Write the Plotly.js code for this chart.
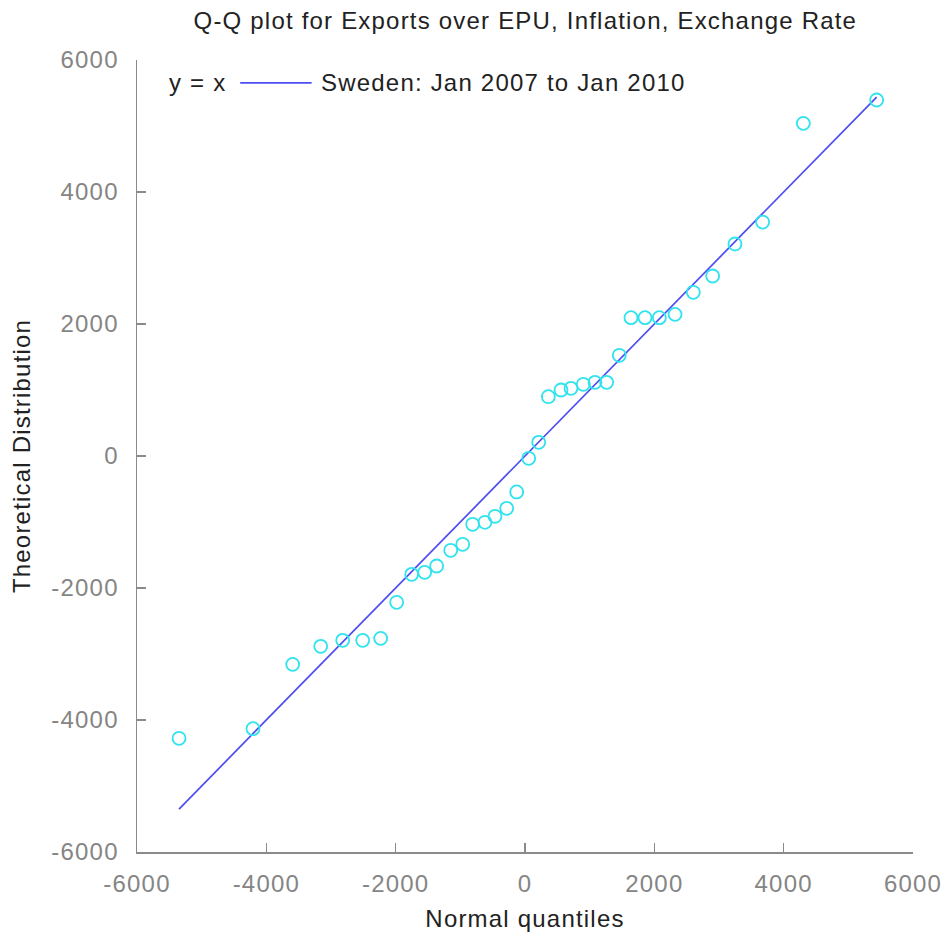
<!DOCTYPE html>
<html>
<head>
<meta charset="utf-8">
<script src="https://cdn.plot.ly/plotly-3.0.1.min.js"></script>
<style>
html,body{margin:0;padding:0;background:#fff;}
#chart{width:950px;height:940px;}
#chart svg text{letter-spacing:1.2px;}
</style>
</head>
<body>
<div id="chart"></div>
<script>
// Normal quantiles (x) and theoretical distribution values (y)
const normalQuantiles = [-5350, -4206, -3592, -3159, -2819, -2510, -2232, -1984, -1752, -1551,
  -1366, -1149, -963, -809, -619, -464, -283, -128, 57, 212,
  361, 557, 711, 902, 1082, 1263, 1458, 1639, 1856, 2077,
  2320, 2603, 2902, 3247, 3675, 4304, 5438];
const theoretical = [-4277, -4131, -3157, -2884, -2793, -2793, -2763, -2217, -1793, -1763,
  -1667, -1429, -1338, -1035, -1005, -914, -793, -545, -35, 207,
  899, 1000, 1025, 1086, 1116, 1116, 1526, 2096, 2096, 2096,
  2146, 2480, 2727, 3212, 3545, 5040, 5394];
const tickVals = [-6000, -4000, -2000, 0, 2000, 4000, 6000];
const tickText = ['-6000', '-4000', '-2000', '0', '2000', '4000', '6000'];
const titleText = 'Q-Q plot for Exports over EPU, Inflation, Exchange Rate';
const xTitle = 'Normal quantiles';
const yTitle = 'Theoretical Distribution';
const lineLabel = 'y = x';
const seriesLabel = 'Sweden: Jan 2007 to Jan 2010';

const xMin = Math.min(...normalQuantiles), xMax = Math.max(...normalQuantiles);

const FONT = 'Liberation Sans, Arial, sans-serif';
const traces = [
  {
    x: [xMin, xMax], y: [xMin, xMax], mode: 'lines', name: lineLabel,
    line: {color: '#4d4df2', width: 1.7}, showlegend: false, hoverinfo: 'skip'
  },
  {
    x: normalQuantiles, y: theoretical, mode: 'markers', name: seriesLabel,
    marker: {symbol: 'circle-open', size: 13, color: '#30e3ee', line: {width: 1.8, color: '#30e3ee'}},
    showlegend: false
  }
];

const axisCommon = {
  range: [-6000, 6000], tickvals: tickVals, ticktext: tickText,
  showline: true, linecolor: '#8a8a8a', linewidth: 1.5, mirror: false,
  ticks: 'inside', ticklen: 9, tickwidth: 1.2, tickcolor: '#8a8a8a',
  showgrid: false, zeroline: false,
  tickfont: {family: FONT, size: 24, color: '#858585'}
};

const layout = {
  width: 950, height: 940,
  margin: {l: 137, r: 37, t: 60, b: 88},
  paper_bgcolor: '#ffffff', plot_bgcolor: '#ffffff',
  showlegend: false,
  title: {text: titleText, font: {family: FONT, size: 24, color: '#222222'}, x: 0.553, xanchor: 'center', y: 0.978, yanchor: 'middle'},
  xaxis: Object.assign({}, axisCommon, {
    ticklabelstandoff: 10,
    title: {text: xTitle, font: {family: FONT, size: 24, color: '#222222'}, standoff: 14}
  }),
  yaxis: Object.assign({}, axisCommon, {
    ticklabelstandoff: 12,
    title: {text: yTitle, font: {family: FONT, size: 24, color: '#222222'}, standoff: 20}
  }),
  shapes: [
    {type: 'line', xref: 'paper', yref: 'paper', x0: 0.133, x1: 0.225, y0: 0.971, y1: 0.971,
     line: {color: '#4d4df2', width: 1.7}}
  ],
  annotations: [
    {text: lineLabel, xref: 'paper', yref: 'paper', x: 0.04, y: 0.971, xanchor: 'left', yanchor: 'middle',
     width: 80, align: 'left', borderpad: 0,
     showarrow: false, font: {family: FONT, size: 24, color: '#222222'}},
    {text: seriesLabel, xref: 'paper', yref: 'paper', x: 0.236, y: 0.971, xanchor: 'left', yanchor: 'middle',
     width: 420, align: 'left', borderpad: 0,
     showarrow: false, font: {family: FONT, size: 24, color: '#222222'}}
  ]
};

Plotly.newPlot('chart', traces, layout, {displayModeBar: false, staticPlot: true});
</script>
</body>
</html>
